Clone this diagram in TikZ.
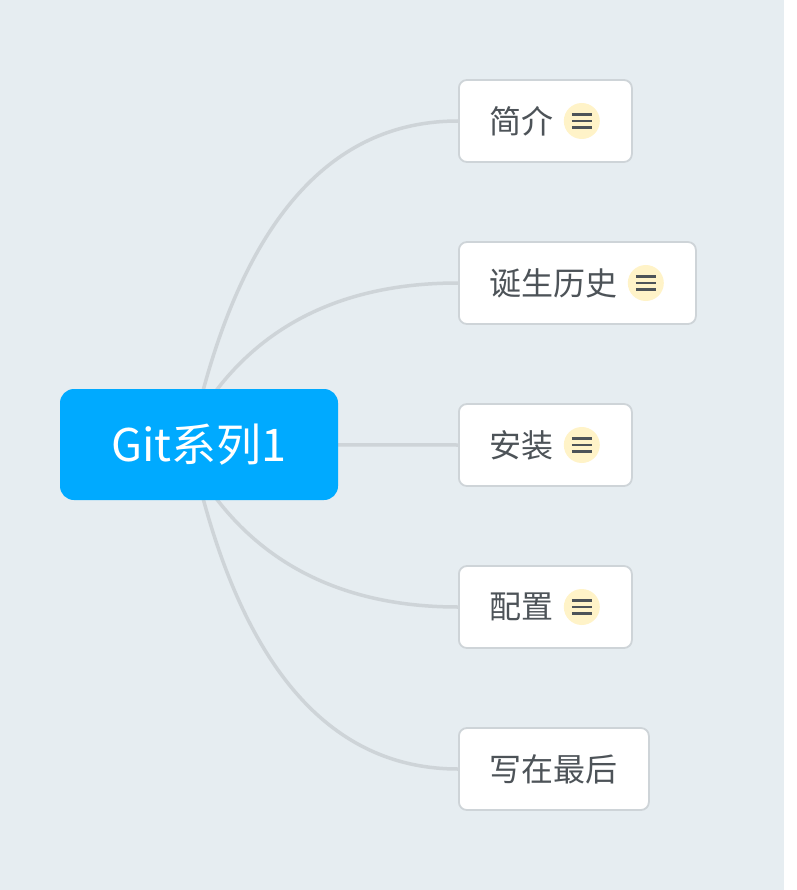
\documentclass[tikz,border=0pt]{standalone}
\usepackage{fontspec}
\setmainfont{Noto Sans CJK SC}
\usetikzlibrary{calc, backgrounds}
\definecolor{bgblue}{RGB}{230,237,241}
\definecolor{rootblue}{RGB}{0,170,255}
\definecolor{linegray}{RGB}{206,212,216}
\definecolor{textgray}{RGB}{77,83,88}
\definecolor{noteyellow}{RGB}{255,243,200}

\begin{document}
\begin{tikzpicture}[x=1pt, y=-1pt,
    rootbox/.style={rectangle, rounded corners=14pt, fill=rootblue, text=white,
        minimum width=278pt, minimum height=111pt, inner sep=0pt,
        font=\fontsize{45}{54}\selectfont},
    leaf/.style={rectangle, rounded corners=8pt, draw=linegray, line width=1.8pt,
        fill=white, text=textgray, anchor=west, minimum height=82pt,
        inner xsep=31pt, inner ysep=0pt, font=\fontsize{32}{38}\selectfont},
    noteicon/.style={circle, fill=noteyellow, minimum size=36pt, inner sep=0pt},
    branch/.style={draw=linegray, line width=3.5pt}
]
\useasboundingbox (0, 0) rectangle (796, 890);
\begin{scope}[on background layer]
    \fill[bgblue] (0, 0) rectangle (784, 890);
\end{scope}
% centre
\node[rootbox] (root) at (199, 444.5) {Git系列1};
% topics
\node[leaf] (jianjie) at (458, 121) {简介\rule{47pt}{0pt}};
\node[leaf] (lishi) at (458, 283) {诞生历史\rule{47pt}{0pt}};
\node[leaf] (anzhuang) at (458, 445) {安装\rule{47pt}{0pt}};
\node[leaf] (peizhi) at (458, 607) {配置\rule{47pt}{0pt}};
\node[leaf] (zuihou) at (458, 769) {写在最后};
% note marks
\foreach \t in {jianjie, lishi, anzhuang, peizhi}{
    \node[noteicon] (\t-note) at ($(\t.east)+(-51, 0)$) {};
    \foreach \dy in {-6.2, 0, 6.2}
        \draw[textgray, line width=2.7pt]
        ($(\t-note.center)+(-10, \dy)$) -- ($(\t-note.center)+(10, \dy)$);
}
% branches
\begin{scope}[on background layer]
    \draw[branch] ($(root.north)+(4, 2)$) .. controls +(48.7, -180) and +(-121, 0) .. (jianjie.west);
    \draw[branch] ($(root.north)+(17, 2)$) .. controls +(55, -72) and +(-106, 0) .. (lishi.west);
    \draw[branch] (root.center) -- (anzhuang.west);
    \draw[branch] ($(root.south)+(17, -2)$) .. controls +(55, 72) and +(-106, 0) .. (peizhi.west);
    \draw[branch] ($(root.south)+(4, -2)$) .. controls +(48.7, 180) and +(-121, 0) .. (zuihou.west);
\end{scope}
\end{tikzpicture}
\end{document}
